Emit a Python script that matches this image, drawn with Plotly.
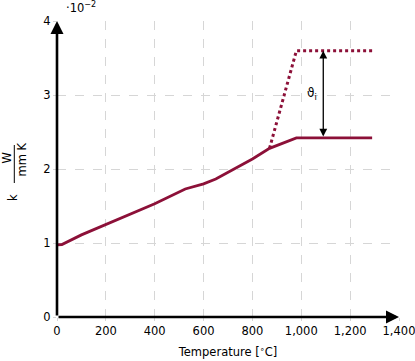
import plotly.graph_objects as go

# data (k in units of 1e-2 W/(mm K))
temp_solid = [0, 20, 100, 200, 300, 400, 525, 600, 650, 800, 870, 980, 1290]
k_solid = [0.975, 0.98, 1.11, 1.247, 1.39, 1.53, 1.73, 1.80, 1.865, 2.135, 2.28, 2.42, 2.42]
temp_dotted = [870, 980, 1290]
k_dotted = [2.28, 3.60, 3.60]
arrow_temp = 1090
arrow_k = [2.42, 3.60]
x_tickvals = [0, 200, 400, 600, 800, 1000, 1200, 1400]
x_ticktext = ["0", "200", "400", "600", "800", "1,000", "1,200", "1,400"]
y_tickvals = [0, 1, 2, 3, 4]
y_ticktext = ["0", "1", "2", "3", "4"]

W, H = 415, 361
L, R, T, B = 57, 16, 21, 44
pw, ph = W - L - R, H - T - B
def px(x): return (x - L) / pw
def py(y): return (H - B - y) / ph

color = "#8c1038"
font = dict(family="DejaVu Sans", size=11.5, color="black")

fig = go.Figure()
fig.add_trace(go.Scatter(x=temp_dotted, y=k_dotted, mode="lines",
                         line=dict(color=color, width=3, dash="dot"), hoverinfo="skip"))
fig.add_trace(go.Scatter(x=temp_solid, y=k_solid, mode="lines",
                         line=dict(color=color, width=2.8), hoverinfo="skip"))

ann = []
# axes with arrows
ann.append(dict(x=1400, y=0, ax=0, ay=0, xref="x", yref="y", axref="x", ayref="y",
                text="", showarrow=True, arrowhead=2, arrowsize=1, arrowwidth=2.6, arrowcolor="black"))
ann.append(dict(x=0, y=4, ax=0, ay=0, xref="x", yref="y", axref="x", ayref="y",
                text="", showarrow=True, arrowhead=2, arrowsize=1, arrowwidth=2.6, arrowcolor="black"))
# double arrow
ann.append(dict(x=arrow_temp, y=arrow_k[1], ax=arrow_temp, ay=arrow_k[0], xref="x", yref="y",
                axref="x", ayref="y", text="", showarrow=True, arrowhead=2, startarrowhead=2,
                arrowside="end+start", arrowsize=1.2, startarrowsize=1.2, arrowwidth=1.3, arrowcolor="black"))
ann.append(dict(x=1043, y=3.02, xref="x", yref="y", text="ϑ<sub>i</sub>", showarrow=False,
                xanchor="center", yanchor="middle",
                font=dict(family="DejaVu Sans", size=12, color="black")))
# exponent
ann.append(dict(x=px(81), y=1, xref="paper", yref="paper", xanchor="center", yanchor="bottom", yshift=4,
                text="·10<sup>−2</sup>", showarrow=False, font=font))
# y-axis label: k  W / (mm K)
ann.append(dict(x=px(13), y=py(198), xref="paper", yref="paper", text="k", textangle=-90,
                xanchor="center", yanchor="middle", showarrow=False, font=font))
ann.append(dict(x=px(6.5), y=py(158), xref="paper", yref="paper", text="W", textangle=-90,
                xanchor="center", yanchor="middle", showarrow=False, font=font))
ann.append(dict(x=px(21.5), y=py(160), xref="paper", yref="paper", text="mm K", textangle=-90,
                xanchor="center", yanchor="middle", showarrow=False, font=font))

shapes = [dict(type="line", xref="paper", yref="paper", x0=px(14.3), x1=px(14.3),
               y0=py(145), y1=py(183), line=dict(color="black", width=1))]

grid = dict(showgrid=True, gridcolor="#d6d6d6", gridwidth=1, griddash="dash",
            zeroline=False, showline=False, ticks="outside", ticklen=3, tickcolor="#d6d6d6",
            tickfont=font, automargin=False, ticklabeloverflow="allow")

fig.update_layout(
    width=W, height=H, margin=dict(l=L, r=R, t=T, b=B, autoexpand=False),
    paper_bgcolor="white", plot_bgcolor="white", showlegend=False,
    xaxis=dict(range=[0, 1400.01], tickvals=x_tickvals, ticktext=x_ticktext,
               title=dict(text="Temperature [<sup>∘</sup>C]", font=font, standoff=11), **grid),
    yaxis=dict(range=[0, 4.001], tickvals=y_tickvals, ticktext=y_ticktext, **grid),
    annotations=ann, shapes=shapes, font=font,
)
fig.write_html("out.html", config={"displayModeBar": False},
               post_script="document.body.style.margin='0';")
